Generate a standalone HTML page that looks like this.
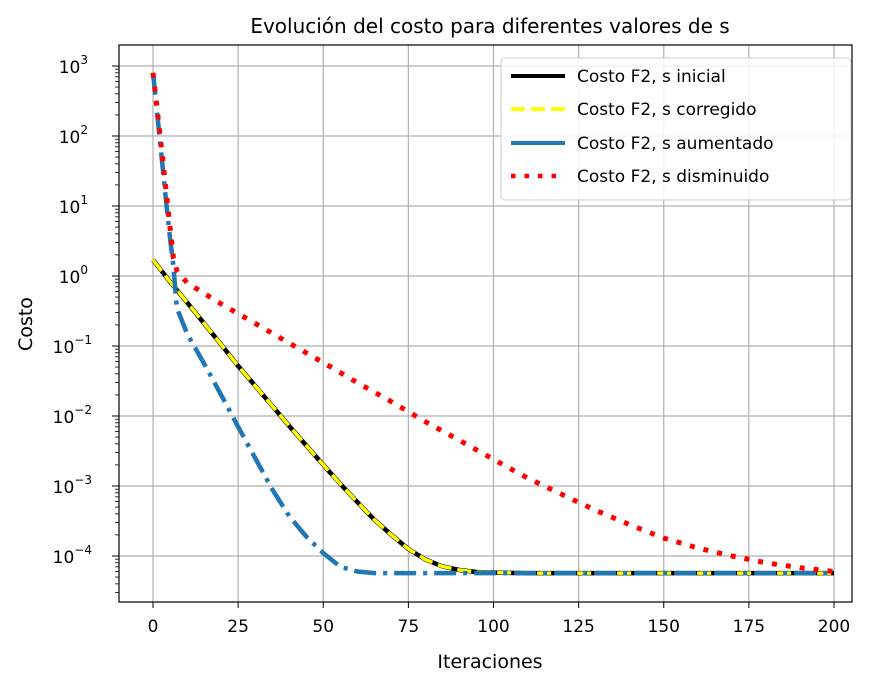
<!DOCTYPE html>
<html><head><meta charset="utf-8"><style>
body{margin:0;background:#fff;}
svg{font-family:"DejaVu Sans","Liberation Sans",sans-serif;}
</style></head><body>
<svg id="chart" width="876" height="681" viewBox="0 0 876 681">
<text x="490" y="33" font-size="20" text-anchor="middle">Evolución del costo para diferentes valores de s</text>
<g id="grid"></g><g id="series"></g>
<rect x="119" y="45" width="733" height="557" fill="none" stroke="#000" stroke-width="1.2"/>
<g id="axes"></g>
<text x="490" y="668" font-size="19" text-anchor="middle">Iteraciones</text>
<text transform="translate(32,324) rotate(-90)" font-size="19" text-anchor="middle">Costo</text>
<g>
<rect x="501" y="58" width="350" height="142" rx="4" fill="#fff" fill-opacity="0.85" stroke="#ccc"/>
<g><line x1="511" y1="76" x2="565" y2="76" stroke="#000" stroke-width="4"/><text x="577" y="82" font-size="17">Costo F2, s inicial</text></g>
<g><line x1="511" y1="109" x2="565" y2="109" stroke="#ffff00" stroke-width="4" stroke-dasharray="14,6"/><text x="577" y="115" font-size="17">Costo F2, s corregido</text></g>
<g><line x1="511" y1="143" x2="565" y2="143" stroke="#1f77b4" stroke-width="4"/><text x="577" y="149" font-size="17">Costo F2, s aumentado</text></g>
<g><line x1="511" y1="176" x2="565" y2="176" stroke="#ff0000" stroke-width="4.5" stroke-dasharray="4.5,9"/><text x="577" y="182" font-size="17">Costo F2, s disminuido</text></g>
</g>
</svg>
<script>
const xTicks=[0,25,50,75,100,125,150,175,200];
const yExps=[-4,-3,-2,-1,0,1,2,3];
const iterA=[0,5,10,15,20,25,30,35,40,45,50,55,60,65,70,75,80,85,90,95,100,110,120,130,140,150,160,170,180,190,200];
const costInicial=[1.7,0.83,0.42,0.21,0.105,0.052,0.027,0.014,0.0072,0.0038,0.002,0.00107,0.00059,0.00033,0.0002,0.000126,0.000089,0.000071,0.000063,0.000059,0.000058,0.000057,0.000057,0.000057,0.000057,0.000057,0.000057,0.000057,0.000057,0.000057,0.000057];
const iterB=[0,1,2,3,4,5,6,7,10,15,20,25,30,35,40,45,50,55,60,65,70,100,150,200];
const costAumentado=[800,270,90,30,10,3.5,1.4,0.35,0.15,0.056,0.02,0.007,0.0025,0.0009,0.00037,0.00019,0.00011,0.00007,0.00006,0.000057,0.000057,0.000057,0.000057,0.000057];
const iterC=[0,1,2,3,4,5,6,7,10,20,30,40,50,60,70,80,90,100,110,120,130,140,150,160,170,180,190,200];
const costDisminuido=[800,300,110,40,14,5,1.8,1.2,0.8,0.4,0.21,0.11,0.058,0.030,0.016,0.0083,0.0045,0.0024,0.0013,0.00076,0.00045,0.00028,0.00018,0.00013,0.0001,0.00008,0.000068,0.00006];
const NS="http://www.w3.org/2000/svg";
const X=v=>153+v*(834-153)/200;
const Y=v=>276-Math.log10(v)*70;
function mk(t,a,p){const e=document.createElementNS(NS,t);for(const k in a)e.setAttribute(k,a[k]);p.appendChild(e);return e;}
const grid=document.getElementById('grid'),axes=document.getElementById('axes'),ser=document.getElementById('series');
xTicks.forEach(t=>{
 const g=mk('line',{x1:X(t),x2:X(t),y1:45,y2:602,stroke:'#b0b0b0','stroke-width':1.2},grid);
 
 
 mk('line',{x1:X(t),x2:X(t),y1:602,y2:608,stroke:'#000'},axes);
 const l=mk('text',{x:X(t),y:632,'font-size':17,'text-anchor':'middle'},axes);l.textContent=t;
 
 
});
yExps.forEach(e=>{
 const y=276-e*70;
 const g=mk('line',{x1:119,x2:852,y1:y,y2:y,stroke:'#b0b0b0','stroke-width':1.2},grid);
 
 
 mk('line',{x1:112,x2:119,y1:y,y2:y,stroke:'#000'},axes);
 const l=mk('text',{x:e<0?92:88,y:y+7,'font-size':17,'text-anchor':'end'},axes);
 
 
 l.textContent='10';
 const s=mk('tspan',{dy:-9,'font-size':12},l);s.textContent=e<0?'\u2212'+(-e):e;
 for(let m=2;m<10;m++){const yy=y-Math.log10(m)*70;if(yy<45||yy>602)continue;mk('line',{x1:115,x2:119,y1:yy,y2:yy,stroke:'#000','stroke-width':0.8},axes);}
});
for(let m=2;m<10;m++){const yy=276+5*70-Math.log10(m)*70;if(yy<602)mk('line',{x1:115,x2:119,y1:yy,y2:yy,stroke:'#000','stroke-width':0.8},axes);}
function path(xs,ys,st,name){
 const d=xs.map((x,i)=>(i?'L':'M')+X(x).toFixed(1)+','+Y(ys[i]).toFixed(1)).join('');
 const p=mk('path',Object.assign({d:d,fill:'none'},st),ser);
 
 
}
path(iterA,costInicial,{stroke:'#000','stroke-width':4.5},'line-s-inicial');
path(iterA,costInicial,{stroke:'#ffff00','stroke-width':3.5,'stroke-dasharray':'14,6'},'line-s-corregido');
path(iterB,costAumentado,{stroke:'#1f77b4','stroke-width':4.5,'stroke-dasharray':'22,7,4,7'},'line-s-aumentado');
path(iterC,costDisminuido,{stroke:'#ff0000','stroke-width':5,'stroke-dasharray':'5,9'},'line-s-disminuido');
</script>
</body></html>
